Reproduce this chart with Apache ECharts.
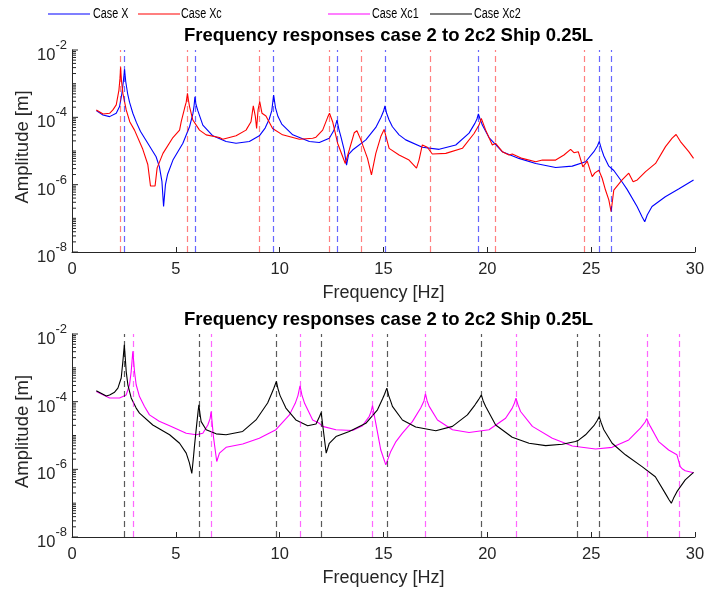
<!DOCTYPE html>
<html><head><meta charset="utf-8">
<script src="https://cdn.jsdelivr.net/npm/echarts@6/dist/echarts.min.js"></script>
<style>html,body{margin:0;padding:0;background:#fff}#c{width:726px;height:592px}</style>
</head><body><div id="c"></div>
<script>
// ---------- DATA ----------
const titleText = 'Frequency responses case 2 to 2c2 Ship 0.25L';
const legendNames = ['Case X', 'Case Xc', 'Case Xc1', 'Case Xc2'];
const xTicks = [0, 5, 10, 15, 20, 25, 30];
const yDecadeLabels = [-8, -6, -4, -2];   // exponents of the labelled decades

// Case X (top, blue): frequency [Hz], amplitude [m]
const fX = [1.17,1.49,1.81,2.13,2.29,2.40,2.47,2.53,2.59,2.68,2.77,2.93,3.10,3.30,3.65,4.05,4.21,4.33,4.41,4.50,4.60,4.86,5.34,5.66,5.82,5.88,5.92,5.97,6.06,6.30,6.78,7.42,7.90,8.54,9.02,9.30,9.50,9.62,9.71,9.80,9.92,10.10,10.63,11.43,11.91,12.39,12.60,12.70,12.76,12.85,12.96,13.10,13.22,13.32,13.51,14.15,14.63,14.88,15.00,15.07,15.15,15.27,15.43,15.75,16.07,16.87,17.68,18.48,19.12,19.40,19.50,19.57,19.65,19.76,20.08,20.72,21.52,22.33,23.29,24.09,24.73,25.13,25.30,25.39,25.50,25.61,25.85,26.09,26.49,26.73,27.21,27.45,27.58,27.70,27.93,28.57,29.21,29.93];
const aX = [1.58e-4,1.17e-4,1.05e-4,1.32e-4,2.09e-4,5.01e-4,1.12e-3,2.69e-3,1.12e-3,5.01e-4,2.82e-4,1.32e-4,7.08e-5,3.80e-5,1.70e-5,6.76e-6,3.39e-6,1.26e-6,2.24e-7,1.0e-6,2.0e-6,5.37e-6,1.70e-5,5.25e-5,1.26e-4,2.24e-4,4.07e-4,2.40e-4,1.58e-4,5.89e-5,2.82e-5,1.91e-5,1.70e-5,1.91e-5,2.82e-5,4.79e-5,8.91e-5,1.58e-4,4.57e-4,1.91e-4,1.05e-4,6.31e-5,3.02e-5,1.91e-5,1.78e-5,2.40e-5,3.98e-5,6.03e-5,8.32e-5,4.47e-5,2.51e-5,1.12e-5,3.80e-6,7.94e-6,1.07e-5,2.14e-5,5.01e-5,1.0e-4,1.51e-4,2.19e-4,1.32e-4,8.32e-5,5.25e-5,3.02e-5,2.14e-5,1.29e-5,1.12e-5,1.51e-5,3.39e-5,6.61e-5,8.91e-5,1.26e-4,8.91e-5,5.89e-5,2.51e-5,9.55e-6,6.03e-6,4.27e-6,3.24e-6,3.55e-6,4.79e-6,9.55e-6,1.41e-5,1.91e-5,1.12e-5,7.08e-6,3.55e-6,2.63e-6,1.20e-6,7.24e-7,2.24e-7,1.12e-7,7.94e-8,1.26e-7,2.24e-7,4.37e-7,7.41e-7,1.38e-6];

// Case Xc (top, red)
const fXc = [1.17,1.50,1.81,1.97,2.13,2.26,2.31,2.34,2.38,2.45,2.61,2.78,3.01,3.41,3.65,3.78,4.00,4.10,4.38,4.86,5.18,5.26,5.42,5.50,5.56,5.61,5.66,5.82,6.14,6.46,7.10,7.26,7.90,8.38,8.62,8.73,8.83,8.89,8.96,9.04,9.15,9.34,9.66,10.14,10.95,11.59,11.75,12.07,12.31,12.40,12.55,12.79,13.16,13.35,13.59,13.72,13.91,14.23,14.42,14.63,14.87,15.03,15.27,15.75,16.23,16.59,16.71,16.87,17.11,17.35,18.00,18.80,19.36,19.60,19.71,19.92,20.24,20.40,20.72,21.04,21.20,21.68,22.33,22.65,23.29,23.69,24.01,24.17,24.38,24.60,24.81,25.05,25.18,25.37,25.53,25.69,25.85,25.96,26.09,26.49,26.81,27.02,27.22,27.62,28.10,28.58,28.90,29.09,29.30,29.70,29.93];
const aXc = [1.66e-4,1.26e-4,1.32e-4,1.66e-4,2.34e-4,6.46e-4,1.41e-3,3.09e-3,1.26e-3,5.13e-4,1.66e-4,7.41e-5,4.17e-5,1.12e-5,3.98e-6,9.12e-7,9.12e-7,3.16e-6,8.51e-6,2.51e-5,4.17e-5,7.41e-5,1.86e-4,2.82e-4,5.13e-4,3.16e-4,2.09e-4,8.32e-5,4.17e-5,3.02e-5,2.51e-5,2.24e-5,2.82e-5,4.17e-5,7.41e-5,2.19e-4,1.05e-4,4.68e-5,1.66e-4,2.95e-4,1.32e-4,1.10e-4,4.68e-5,3.02e-5,2.24e-5,2.40e-5,2.57e-5,4.17e-5,1.0e-4,1.32e-4,7.41e-5,1.70e-5,4.27e-6,1.07e-5,3.47e-5,3.98e-5,2.14e-5,6.03e-6,1.95e-6,8.51e-6,2.69e-5,4.37e-5,1.20e-5,7.59e-6,5.37e-6,3.09e-6,5.37e-6,1.51e-5,1.29e-5,8.13e-6,8.51e-6,1.20e-5,3.31e-5,5.89e-5,9.33e-5,4.17e-5,1.51e-5,1.70e-5,9.55e-6,7.59e-6,8.13e-6,6.03e-6,4.79e-6,5.37e-6,5.37e-6,7.59e-6,1.12e-5,8.91e-6,9.55e-6,3.39e-6,5.01e-6,1.74e-6,2.24e-6,2.69e-6,1.55e-6,6.92e-7,3.55e-7,1.58e-7,6.92e-7,1.38e-6,2.19e-6,1.23e-6,1.38e-6,2.45e-6,4.27e-6,1.35e-5,2.40e-5,3.09e-5,1.91e-5,9.55e-6,6.03e-6];

// Case Xc1 (bottom, magenta)
const fXc1 = [1.17,1.81,2.29,2.61,2.77,2.85,2.93,3.01,3.09,3.25,3.49,3.73,4.20,4.70,5.50,5.98,6.30,6.54,6.65,6.70,6.76,6.81,6.97,7.10,7.42,8.22,9.02,9.82,10.47,10.75,10.88,10.98,11.07,11.20,11.59,11.91,12.07,12.71,13.51,13.99,14.31,14.40,14.47,14.55,14.63,14.87,15.11,15.35,15.60,15.91,16.39,16.79,16.95,17.02,17.10,17.20,17.60,18.32,19.12,20.08,20.88,21.20,21.30,21.38,21.47,21.60,22.17,23.13,24.09,25.21,26.01,26.81,27.37,27.60,27.68,27.76,27.85,28.25,28.73,29.13,29.29,29.40,29.53,29.93];
const aXc1 = [2.0e-4,1.29e-4,1.29e-4,1.58e-4,3.16e-4,7.76e-4,3.09e-3,7.76e-4,3.16e-4,1.41e-4,7.24e-5,4.07e-5,2.63e-5,1.95e-5,1.17e-5,1.05e-5,1.17e-5,2.04e-5,3.16e-5,5.13e-5,2.0e-5,9.33e-6,1.70e-6,3.02e-6,4.47e-6,5.62e-6,8.32e-6,1.48e-5,4.07e-5,8.91e-5,1.51e-4,2.95e-4,1.58e-4,8.91e-5,2.88e-5,2.29e-5,1.86e-5,1.48e-5,1.41e-5,1.95e-5,3.63e-5,5.01e-5,7.59e-5,4.17e-5,2.29e-5,3.72e-6,1.35e-6,3.39e-6,6.61e-6,1.17e-5,2.57e-5,6.46e-5,1.05e-4,1.70e-4,1.05e-4,7.24e-5,2.88e-5,1.48e-5,1.23e-5,1.48e-5,3.24e-5,6.46e-5,8.91e-5,1.26e-4,8.32e-5,5.13e-5,1.86e-5,8.32e-6,4.90e-6,3.98e-6,4.47e-6,7.41e-6,1.66e-5,2.51e-5,3.16e-5,2.40e-5,1.86e-5,6.61e-6,3.72e-6,2.69e-6,1.20e-6,1.02e-6,9.12e-7,7.94e-7];

// Case Xc2 (bottom, black)
const fXc2 = [1.17,1.65,1.81,2.05,2.21,2.37,2.45,2.52,2.57,2.61,2.69,2.85,3.09,3.25,3.89,4.70,5.18,5.50,5.65,5.77,5.84,5.90,6.01,6.07,6.11,6.16,6.22,6.46,6.94,7.42,8.22,8.86,9.42,9.62,9.71,9.84,9.92,10.02,10.30,10.78,11.35,11.75,11.92,12.00,12.10,12.24,12.39,12.71,13.35,14.15,14.71,14.95,15.05,15.16,15.25,15.35,15.43,15.91,16.55,17.52,18.32,19.04,19.40,19.52,19.62,19.71,19.80,19.92,20.40,21.20,22.01,22.81,23.61,24.25,24.41,24.73,25.13,25.30,25.39,25.48,25.61,26.01,26.65,27.45,28.09,28.57,28.75,28.86,28.97,29.13,29.53,29.93];
const aXc2 = [2.09e-4,1.48e-4,1.58e-4,1.91e-4,2.51e-4,5.01e-4,1.55e-3,4.79e-3,1.78e-3,7.76e-4,3.16e-4,1.29e-4,6.46e-5,4.57e-5,2.04e-5,1.05e-5,5.89e-6,3.02e-6,1.58e-6,7.59e-7,2.0e-6,5.01e-6,2.29e-5,5.01e-5,8.13e-5,4.47e-5,2.57e-5,1.48e-5,1.12e-5,1.05e-5,1.32e-5,2.88e-5,9.12e-5,1.78e-4,2.40e-4,3.98e-4,2.40e-4,1.51e-4,6.46e-5,2.88e-5,1.95e-5,2.19e-5,3.63e-5,4.79e-5,1.48e-5,3.02e-6,5.89e-6,9.33e-6,1.32e-5,2.29e-5,5.75e-5,1.20e-4,1.66e-4,2.51e-4,1.51e-4,1.02e-4,7.24e-5,2.88e-5,1.78e-5,1.38e-5,1.86e-5,4.07e-5,7.94e-5,1.02e-4,1.26e-4,1.58e-4,1.05e-4,7.24e-5,2.04e-5,8.91e-6,5.89e-6,5.01e-6,5.50e-6,6.61e-6,7.41e-6,1.05e-5,1.95e-5,2.82e-5,3.63e-5,2.40e-5,1.48e-5,5.89e-6,2.69e-6,1.20e-6,6.03e-7,1.95e-7,1.26e-7,1.0e-7,1.41e-7,2.19e-7,4.90e-7,8.13e-7];

// Natural-frequency markers (dashed verticals), Hz
const modesX   = [2.53, 5.92, 9.71, 12.76, 15.08, 19.57, 25.39, 25.98];
const modesXc  = [2.34, 5.56, 9.04, 12.41, 13.93, 17.25, 20.37, 24.65];
const modesXc1 = [2.93, 6.70, 10.98, 14.47, 17.02, 21.38, 27.68, 29.23];
const modesXc2 = [2.52, 6.11, 9.84, 12.02, 15.16, 19.71, 24.34, 25.39];

// ---------- CHART ----------
const zip = (f, a) => f.map((v, i) => [v, a[i]]);
const axisColor = '#262626';
const font = 'Liberation Sans, Arial, Helvetica, sans-serif';

// MATLAB-style log ticks: [x, value, isMajor]
const logTicks = [];
for (let e = -8; e <= -2; e++) {
  for (let k = 1; k <= 9; k++) {
    if (e === -2 && k > 1) break;
    logTicks.push([0, k * Math.pow(10, e), (k === 1 && e % 2 === 0) ? 1 : 0]);
  }
}

function xAxisCfg(gi) {
  return {
    type: 'value', gridIndex: gi, min: 0, max: 30, interval: 5,
    axisLine: { show: true, onZero: false, lineStyle: { color: axisColor, width: 1 } },
    axisTick: { show: true, inside: true, length: 5, lineStyle: { color: axisColor } },
    axisLabel: { color: axisColor, fontSize: 16.5, fontFamily: font, margin: 9,
      formatter: v => xTicks.includes(v) ? String(v) : '' },
    splitLine: { show: false },
    name: 'Frequency [Hz]', nameLocation: 'middle', nameGap: 32,
    nameTextStyle: { color: axisColor, fontSize: 18, fontFamily: font }
  };
}
function yLogCfg(gi) {
  return {
    type: 'log', logBase: 10, gridIndex: gi, min: 1e-8, max: 1e-2, position: 'left',
    axisLine: { show: true, lineStyle: { color: axisColor, width: 1 } },
    axisTick: { show: false }, axisLabel: { show: false }, splitLine: { show: false },
    name: 'Amplitude [m]', nameLocation: 'middle', nameGap: 40, nameRotate: 90,
    nameTextStyle: { color: axisColor, fontSize: 18.5, fontFamily: font, padding: [0, 0, 0, 8] }
  };
}
// overlay in exponent space: 10^n labels
function yMajorCfg(gi) {
  return {
    type: 'value', gridIndex: gi, min: -8, max: -2, interval: 2, position: 'left', offset: 0,
    axisLine: { show: false },
    axisTick: { show: false },
    axisLabel: {
      margin: 5, color: axisColor, fontFamily: font,
      formatter: v => yDecadeLabels.includes(v) ? '{b|10}{s|' + v + '}' : '',
      rich: {
        b: { fontSize: 16.5, color: axisColor, fontFamily: font, lineHeight: 28, verticalAlign: 'bottom' },
        s: { fontSize: 13, color: axisColor, fontFamily: font, lineHeight: 14, verticalAlign: 'top', padding: [3, 0, 0, 0] }
      }
    },
    splitLine: { show: false }
  };
}
function tickSeries(xi, yi) {
  return {
    type: 'custom', xAxisIndex: xi, yAxisIndex: yi, silent: true, clip: false, z: 4,
    data: logTicks,
    renderItem: (params, api) => {
      const p = api.coord([api.value(0), api.value(1)]);
      const len = api.value(2) ? 6 : 4;
      return { type: 'line', shape: { x1: p[0], y1: p[1], x2: p[0] + len, y2: p[1] },
               style: { stroke: axisColor, lineWidth: 1 } };
    }
  };
}
function markLines(vals, color) {
  return {
    silent: true, symbol: 'none', animation: false,
    label: { show: false },
    lineStyle: { color: color, type: [6, 4], width: 1.2, opacity: 1 },
    data: vals.map(v => ({ xAxis: v }))
  };
}
function lineSeries(name, data, color, xi, yi, modes, dashColor) {
  return {
    name, type: 'line', data, xAxisIndex: xi, yAxisIndex: yi,
    symbol: 'none', showSymbol: false, smooth: false,
    lineStyle: { color, width: 1.1 }, itemStyle: { color },
    markLine: markLines(modes, dashColor), z: 3
  };
}
function legendCfg(name, left) {
  return {
    data: [name], left: left, top: 7, padding: 0, icon: 'rect', itemWidth: 42, itemHeight: 1.2,
    selectedMode: false,
    textStyle: { fontSize: 14, color: 'rgba(0,0,0,0)', fontFamily: font }
  };
}
function legendText(name, x) {
  return {
    type: 'text', x: x, y: 14, scaleX: 0.77, silent: true,
    style: { text: name, fontSize: 14, fontFamily: font, fill: '#000', verticalAlign: 'middle', align: 'left' }
  };
}

const chart = echarts.init(document.getElementById('c'), null, { renderer: 'canvas' });
chart.setOption({
  animation: false,
  backgroundColor: '#fff',
  title: [
    { text: titleText, left: 383.5, textAlign: 'center', top: 21,
      textStyle: { fontSize: 18.5, fontWeight: 'bold', color: '#000', fontFamily: font } },
    { text: titleText, left: 383.5, textAlign: 'center', top: 305,
      textStyle: { fontSize: 18.5, fontWeight: 'bold', color: '#000', fontFamily: font } }
  ],
  legend: [
    legendCfg(legendNames[0], 48), legendCfg(legendNames[1], 138),
    legendCfg(legendNames[2], 328), legendCfg(legendNames[3], 430)
  ],
  graphic: [
    legendText(legendNames[0], 93), legendText(legendNames[1], 181),
    legendText(legendNames[2], 372), legendText(legendNames[3], 474)
  ],
  grid: [
    { left: 72, right: 31, top: 50, height: 202 },
    { left: 72, right: 31, top: 334, height: 203 }
  ],
  xAxis: [xAxisCfg(0), xAxisCfg(1)],
  yAxis: [yLogCfg(0), yLogCfg(1), yMajorCfg(0), yMajorCfg(1)],
  series: [
    lineSeries(legendNames[0], zip(fX, aX), '#0000ff', 0, 0, modesX, 'rgba(0,0,255,0.6)'),
    lineSeries(legendNames[1], zip(fXc, aXc), '#ff0000', 0, 0, modesXc, 'rgba(255,0,0,0.5)'),
    lineSeries(legendNames[2], zip(fXc1, aXc1), '#ff00ff', 1, 1, modesXc1, 'rgba(255,0,255,0.6)'),
    lineSeries(legendNames[3], zip(fXc2, aXc2), '#000000', 1, 1, modesXc2, 'rgba(0,0,0,0.65)'),
    tickSeries(0, 0), tickSeries(1, 1)
  ]
});
</script></body></html>
